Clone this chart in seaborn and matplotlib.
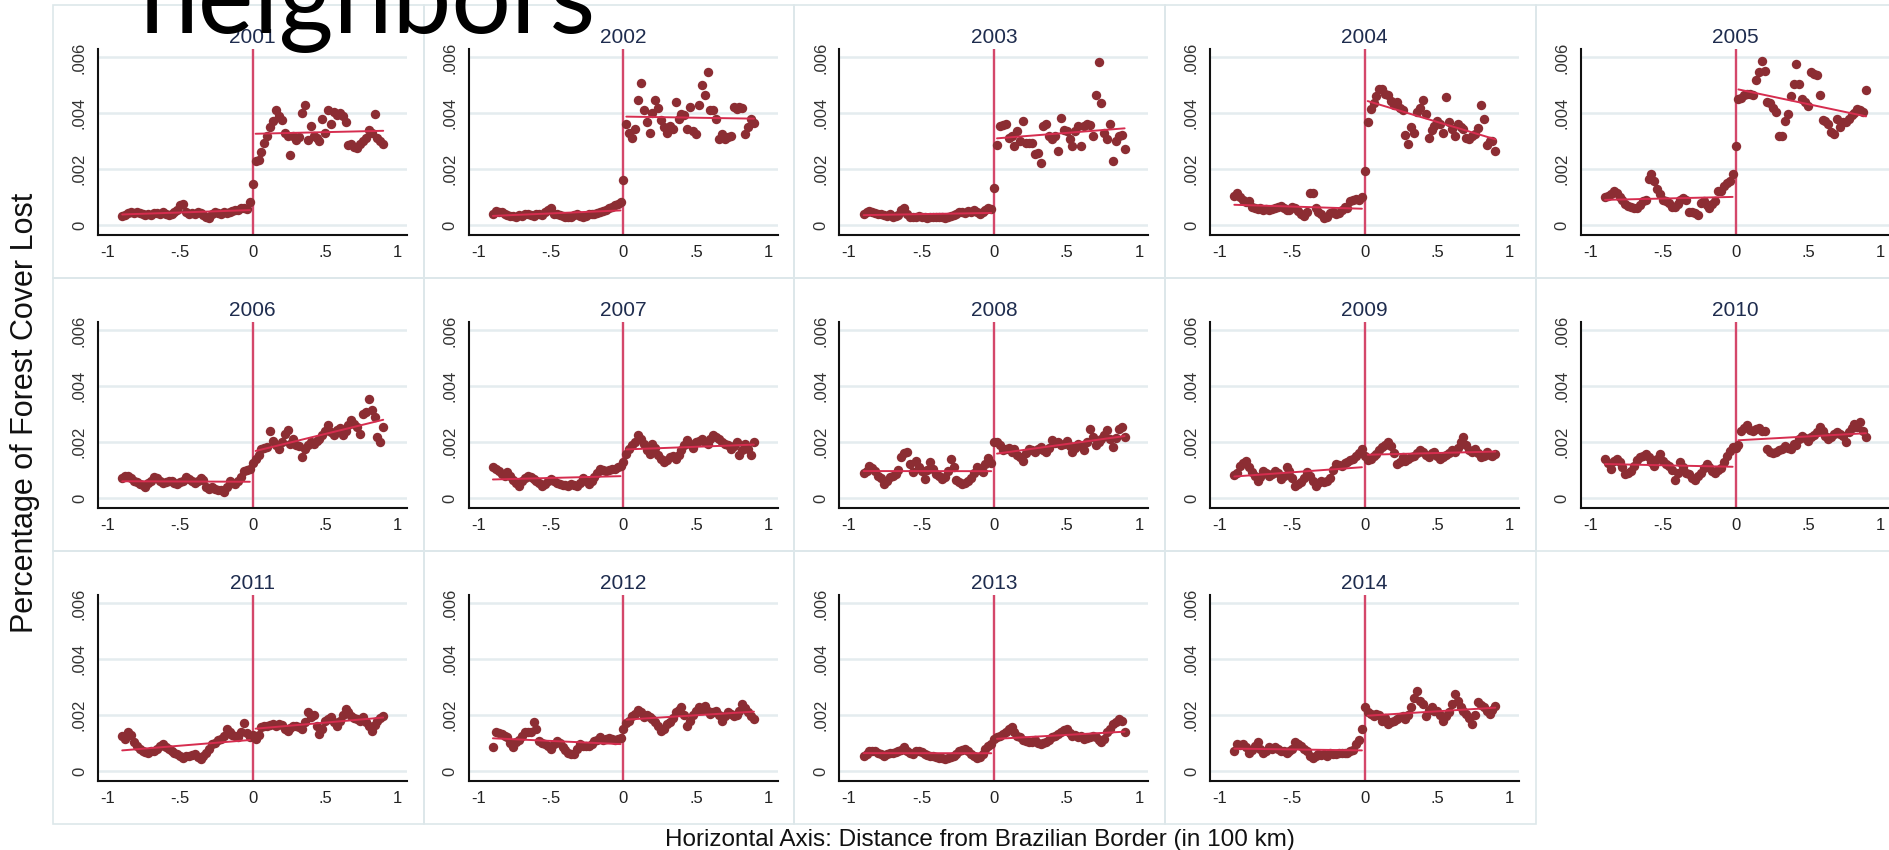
import numpy as np
import pandas as pd
import matplotlib
matplotlib.use('Agg')
import matplotlib.pyplot as plt
import seaborn as sns
from matplotlib.patches import Rectangle

years = [2001, 2002, 2003, 2004, 2005, 2006, 2007, 2008, 2009, 2010, 2011, 2012, 2013, 2014]

# binned means of forest cover lost, in units of 1e-5
# left: bins at -0.90 .. -0.02, right: bins at 0.02 .. 0.90 (100 km)
left_2001 = [33, 36, 42, 45, 43, 48, 44, 38, 35, 40, 37, 44, 42, 38, 45, 40, 34, 38, 45, 55,
             70, 76, 48, 40, 42, 38, 45, 43, 36, 30, 26, 38, 45, 43, 40, 46, 44, 48, 50, 55,
             52, 62, 60, 58, 82]
right_2001 = [228, 232, 262, 295, 320, 350, 372, 410, 390, 375, 330, 320, 252, 320, 305, 315, 400, 428, 305, 355,
              320, 310, 300, 380, 330, 410, 360, 405, 395, 400, 390, 370, 285, 290, 280, 275, 290, 300, 310, 340,
              330, 398, 310, 300, 290]
left_2002 = [38, 50, 48, 45, 40, 35, 32, 33, 30, 35, 33, 38, 40, 35, 32, 38, 40, 35, 45, 55,
             60, 40, 38, 35, 32, 30, 28, 30, 35, 38, 33, 30, 32, 38, 40, 38, 42, 45, 50, 55,
             60, 65, 70, 75, 82]
right_2002 = [361, 330, 313, 345, 449, 510, 412, 367, 329, 400, 449, 418, 377, 349, 328, 355, 345, 442, 380, 398,
              395, 343, 422, 335, 325, 428, 502, 464, 548, 412, 412, 380, 307, 325, 307, 316, 318, 422, 415, 422,
              418, 325, 350, 380, 365]
left_2003 = [40, 45, 50, 48, 42, 40, 38, 35, 33, 38, 30, 32, 35, 55, 62, 40, 30, 28, 30, 32,
             28, 30, 26, 28, 30, 27, 28, 30, 26, 29, 32, 35, 38, 45, 48, 42, 50, 45, 52, 48,
             40, 45, 55, 60, 58]
right_2003 = [287, 355, 358, 360, 310, 317, 283, 337, 300, 373, 295, 293, 293, 253, 259, 223, 355, 361, 320, 307,
              319, 265, 382, 340, 337, 307, 283, 337, 355, 283, 355, 361, 358, 319, 466, 582, 437, 329, 307, 361,
              229, 300, 317, 322, 271]
left_2004 = [105, 114, 100, 88, 82, 84, 66, 60, 58, 62, 55, 58, 52, 56, 60, 65, 69, 60, 55, 52,
             66, 62, 50, 40, 33, 45, 114, 114, 60, 45, 38, 24, 30, 42, 48, 40, 42, 55, 66, 60,
             84, 88, 94, 90, 100]
right_2004 = [367, 416, 437, 460, 488, 486, 470, 464, 445, 430, 442, 420, 410, 322, 289, 349, 331, 404, 420, 446,
              398, 313, 340, 355, 373, 360, 328, 458, 367, 343, 319, 361, 350, 343, 313, 307, 319, 325, 346, 430,
              380, 287, 300, 301, 265]
left_2005 = [100, 102, 110, 120, 115, 100, 90, 75, 69, 64, 62, 60, 70, 84, 90, 163, 181, 157, 127, 110,
             90, 84, 80, 66, 66, 75, 90, 96, 90, 48, 45, 42, 36, 78, 84, 70, 60, 75, 84, 120,
             120, 140, 151, 157, 181]
right_2005 = [452, 454, 464, 470, 468, 464, 520, 548, 587, 551, 440, 437, 420, 406, 319, 319, 373, 398, 460, 506,
              578, 506, 452, 440, 425, 548, 542, 536, 464, 377, 373, 360, 334, 325, 380, 349, 370, 367, 380, 392,
              400, 416, 410, 404, 482]
left_2006 = [72, 78, 80, 70, 62, 58, 50, 45, 38, 55, 62, 74, 70, 60, 52, 58, 62, 60, 55, 50,
             58, 62, 74, 68, 60, 55, 62, 72, 65, 40, 32, 38, 32, 30, 28, 20, 40, 62, 55, 50,
             60, 75, 95, 100, 105]
right_2006 = [140, 155, 176, 180, 182, 240, 205, 190, 176, 200, 230, 242, 194, 210, 190, 186, 146, 175, 188, 200,
              194, 205, 212, 225, 240, 260, 235, 224, 242, 250, 224, 240, 260, 278, 265, 255, 230, 300, 308, 356,
              314, 290, 218, 200, 254]
left_2007 = [110, 104, 98, 85, 80, 92, 80, 65, 55, 44, 60, 72, 80, 75, 68, 62, 55, 44, 50, 60,
             68, 62, 55, 50, 48, 45, 44, 50, 48, 44, 55, 70, 60, 50, 60, 75, 90, 105, 100, 95,
             100, 104, 102, 110, 115]
right_2007 = [158, 176, 188, 200, 224, 210, 194, 170, 158, 194, 180, 152, 140, 128, 135, 146, 150, 140, 155, 170,
              190, 206, 194, 180, 200, 205, 212, 200, 194, 210, 226, 220, 212, 200, 194, 190, 176, 185, 200, 152,
              170, 194, 175, 152, 202]
left_2008 = [90, 95, 116, 108, 98, 80, 70, 50, 60, 74, 80, 86, 100, 146, 160, 164, 120, 92, 134, 110,
             95, 68, 100, 128, 105, 86, 80, 68, 75, 95, 140, 110, 66, 58, 50, 55, 62, 70, 90, 110,
             100, 92, 120, 143, 125]
right_2008 = [200, 190, 170, 176, 180, 164, 175, 152, 145, 134, 160, 176, 170, 164, 175, 182, 170, 164, 180, 206,
              195, 200, 190, 194, 205, 185, 164, 180, 194, 185, 170, 200, 248, 220, 188, 200, 212, 225, 242, 210,
              182, 215, 248, 254, 218]
left_2009 = [83, 90, 116, 125, 134, 110, 92, 80, 62, 75, 98, 90, 80, 85, 98, 90, 68, 80, 110, 95,
             70, 44, 50, 56, 70, 92, 80, 60, 42, 55, 62, 58, 62, 70, 100, 122, 118, 116, 125, 128,
             135, 140, 150, 160, 176]
right_2009 = [135, 140, 150, 158, 170, 182, 190, 200, 185, 160, 120, 130, 145, 134, 140, 146, 150, 160, 170, 165,
              152, 148, 160, 164, 150, 140, 145, 152, 160, 170, 165, 180, 200, 218, 190, 170, 165, 176, 160, 146,
              150, 164, 155, 150, 158]
left_2010 = [139, 125, 105, 133, 140, 127, 110, 84, 90, 97, 115, 135, 145, 150, 157, 145, 130, 115, 140, 157,
             133, 120, 115, 100, 66, 90, 127, 110, 90, 84, 70, 66, 80, 90, 109, 121, 110, 97, 90, 100,
             109, 127, 150, 169, 181]
right_2010 = [190, 241, 250, 260, 245, 241, 247, 250, 241, 241, 175, 163, 160, 163, 170, 175, 187, 180, 175, 193,
              190, 211, 223, 215, 205, 217, 225, 235, 253, 240, 223, 211, 220, 229, 235, 228, 223, 199, 235, 250,
              265, 255, 271, 240, 217]
left_2011 = [126, 114, 138, 130, 102, 90, 80, 72, 68, 66, 70, 72, 80, 90, 96, 85, 78, 70, 65, 60,
             55, 48, 52, 54, 58, 60, 50, 42, 55, 66, 80, 96, 100, 110, 114, 125, 150, 140, 130, 125,
             120, 140, 170, 135, 120]
right_2011 = [114, 130, 156, 160, 162, 165, 168, 160, 168, 165, 150, 144, 155, 162, 160, 156, 150, 175, 210, 192,
              200, 160, 132, 150, 180, 185, 192, 175, 162, 180, 200, 222, 210, 198, 190, 186, 180, 192, 175, 160,
              144, 165, 180, 190, 198]
left_2012 = [84, 138, 135, 132, 125, 120, 100, 84, 102, 110, 125, 138, 140, 138, 174, 150, 108, 100, 96, 90,
             78, 95, 108, 100, 84, 75, 66, 62, 60, 80, 96, 90, 88, 90, 95, 108, 112, 120, 110, 114,
             118, 114, 110, 114, 118]
right_2012 = [170, 180, 195, 204, 218, 210, 192, 200, 192, 185, 175, 162, 144, 150, 168, 175, 190, 210, 220, 228,
              200, 162, 180, 200, 216, 228, 220, 234, 215, 204, 210, 216, 200, 180, 195, 210, 205, 198, 200, 215,
              240, 225, 210, 195, 186]
left_2013 = [55, 62, 72, 70, 72, 66, 60, 55, 60, 64, 66, 68, 72, 75, 84, 72, 66, 62, 70, 72,
             68, 60, 58, 55, 54, 50, 48, 45, 42, 45, 50, 54, 62, 72, 75, 78, 72, 60, 52, 46,
             50, 60, 78, 88, 96]
right_2013 = [120, 126, 132, 138, 150, 156, 140, 126, 120, 110, 108, 105, 102, 110, 100, 96, 100, 102, 110, 120,
              125, 132, 140, 145, 150, 135, 126, 128, 120, 125, 114, 118, 120, 125, 120, 110, 102, 115, 138, 150,
              168, 175, 186, 178, 138]
left_2014 = [72, 96, 92, 96, 85, 66, 75, 90, 102, 80, 66, 72, 84, 80, 84, 78, 72, 70, 66, 70,
             80, 102, 95, 90, 80, 72, 55, 48, 52, 60, 58, 60, 55, 66, 62, 60, 66, 65, 64, 66,
             70, 75, 96, 110, 150]
right_2014 = [210, 205, 198, 204, 200, 180, 190, 168, 175, 180, 185, 192, 195, 186, 200, 230, 260, 288, 250, 240,
              198, 220, 228, 215, 216, 200, 180, 195, 210, 240, 276, 250, 228, 215, 204, 190, 168, 200, 246, 235,
              228, 215, 204, 220, 234]

# bin sitting right on the border (x = 0)
at_border = [145, 162, 132, 193, 283, 125, 130, 200, 150, 180, 130, 150, 114, 230]

left_vals = [left_2001, left_2002, left_2003, left_2004, left_2005, left_2006, left_2007,
             left_2008, left_2009, left_2010, left_2011, left_2012, left_2013, left_2014]
right_vals = [right_2001, right_2002, right_2003, right_2004, right_2005, right_2006, right_2007,
              right_2008, right_2009, right_2010, right_2011, right_2012, right_2013, right_2014]

x_ticks = [-1, -0.5, 0, 0.5, 1]
x_tick_labels = ['-1', '-.5', '0', '.5', '1']
y_ticks = [0, 0.002, 0.004, 0.006]
y_tick_labels = ['0', '.002', '.004', '.006']

left_bins = np.linspace(-0.90, -0.02, 45)
right_bins = np.linspace(0.02, 0.90, 45)

frames = []
for yr, lv, rv, bv in zip(years, left_vals, right_vals, at_border):
    frames.append(pd.DataFrame({'year': yr, 'dist': left_bins, 'loss': np.array(lv) * 1e-5, 'side': 'left'}))
    frames.append(pd.DataFrame({'year': yr, 'dist': [0.0], 'loss': [bv * 1e-5], 'side': 'border'}))
    frames.append(pd.DataFrame({'year': yr, 'dist': right_bins, 'loss': np.array(rv) * 1e-5, 'side': 'right'}))
df = pd.concat(frames, ignore_index=True)

sns.set_style('white')
plt.rcParams['font.family'] = ['Liberation Sans', 'DejaVu Sans']

W, H = 1889, 850
fig = plt.figure(figsize=(W / 100, H / 100), dpi=100)
fig.set_facecolor('white')

dot_color = '#8c2d33'
fit_color = '#d62d4f'
border_color = '#d4476a'
box_color = '#dde7ea'

for k, yr in enumerate(years):
    col, row = k % 5, k // 5
    bx = 53 + 370.7 * col
    by = 5 + 273 * row
    fig.patches.append(Rectangle((bx / W, 1 - (by + 273) / H), 370.7 / W, 273 / H,
                                 transform=fig.transFigure, fill=False,
                                 edgecolor=box_color, lw=1.2, zorder=0))
    ax = fig.add_axes([(bx + 45) / W, 1 - (by + 44 + 186) / H, 309 / W, 186 / H])
    sub = df[df.year == yr]

    ax.grid(axis='y', color='#e4ecef', lw=1.8)
    ax.set_axisbelow(True)
    ax.axvline(0, color=border_color, lw=1.7, zorder=1)

    sns.scatterplot(data=sub, x='dist', y='loss', color=dot_color, s=46,
                    linewidth=0, ax=ax, zorder=3)
    for side in ['left', 'right']:
        part = sub[sub.side == side]
        sns.regplot(data=part, x='dist', y='loss', scatter=False, ci=None, truncate=True,
                    line_kws=dict(color=fit_color, lw=1.4, zorder=4), ax=ax)

    ax.set_xlim(-1.067, 1.064)
    ax.set_ylim(-0.00036, 0.0063)
    ax.set_xticks(x_ticks)
    ax.set_xticklabels(x_tick_labels)
    ax.set_yticks(y_ticks)
    ax.set_yticklabels(y_tick_labels, rotation=90, va='center')
    ax.set_xlabel('')
    ax.set_ylabel('')
    ax.tick_params(axis='x', direction='out', length=4, width=1.2, pad=3,
                   labelsize=12, colors='#222222')
    ax.tick_params(axis='y', direction='out', length=4, width=1.2, pad=4,
                   labelsize=12, colors='#333333')
    for s in ['top', 'right']:
        ax.spines[s].set_visible(False)
    for s in ['left', 'bottom']:
        ax.spines[s].set_color('#111111')
        ax.spines[s].set_linewidth(1.5)
    ax.set_title(str(yr), color='#1e2c4e', fontsize=15, pad=4)

fig.text(980 / W, 1 - 840 / H, 'Horizontal Axis: Distance from Brazilian Border (in 100 km)',
         ha='center', va='center', fontsize=17.5, color='#111111')
fig.text(25 / W, 1 - 413 / H, 'Percentage of Forest Cover Lost', rotation=90,
         ha='center', va='center', fontsize=22, color='#111111')
fig.text(368 / W, 1 - 33 / H, 'neighbors', ha='center', va='baseline',
         fontsize=76, family=['Lato', 'DejaVu Sans'], color='black')

plt.savefig('out.png', dpi=100, facecolor='white')
